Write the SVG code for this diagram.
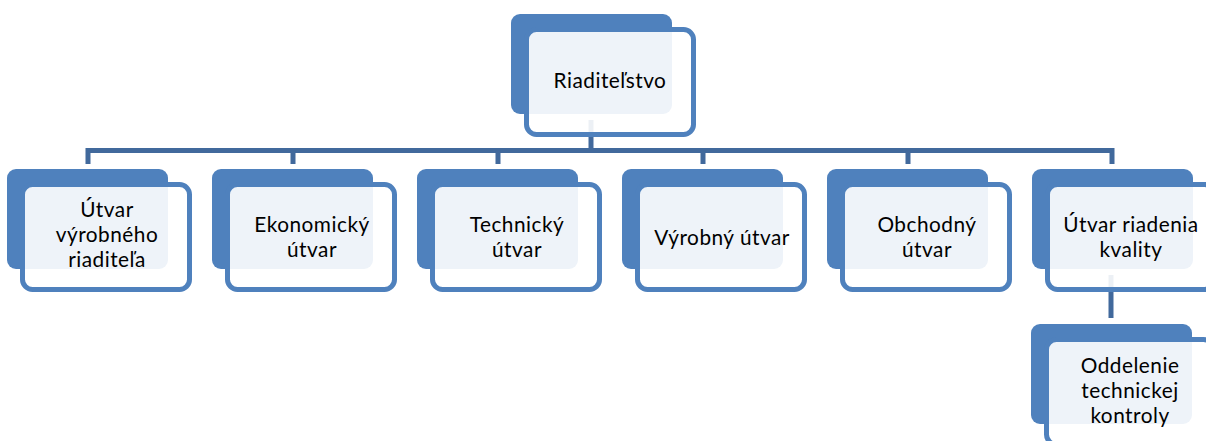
<svg xmlns="http://www.w3.org/2000/svg" width="1206" height="441" viewBox="0 0 1206 441">
<style>
.back{fill:#4F81BD}
.front{fill:#FFFFFF;fill-opacity:0.9;stroke:#4F81BD;stroke-width:5}
.lbl{font-family:Lato,"Open Sans","Liberation Sans",sans-serif;font-size:20.8px;letter-spacing:0.5px;fill:#000000;text-anchor:middle}
.conn{stroke:#41699C;stroke-width:5;fill:none}
</style>
<rect width="1206" height="441" fill="#FFFFFF"/>
<g id="connectors">
<path class="conn" d="M591,120 V150.5"/>
<path class="conn" d="M88,164 V150.5 H1112 V164"/>
<path class="conn" d="M293,150.5 V164 M498,150.5 V164 M703,150.5 V164 M908,150.5 V164"/>
<path class="conn" d="M1111,275 V318"/>
</g>
<g id="n0">
<rect class="back" x="511" y="14" width="161" height="100" rx="9"/>
<rect class="front" x="526.5" y="29.5" width="167" height="105" rx="10"/>
<text class="lbl" x="610" y="88">Riaditeľstvo</text>
</g>
<g id="n1">
<rect class="back" x="7" y="169" width="161" height="100" rx="9"/>
<rect class="front" x="22.5" y="184.5" width="167" height="105" rx="10"/>
<text class="lbl" x="107" y="217">Útvar</text>
<text class="lbl" x="107" y="242">výrobného</text>
<text class="lbl" x="107" y="267">riaditeľa</text>
</g>
<g id="n2">
<rect class="back" x="212" y="169" width="161" height="100" rx="9"/>
<rect class="front" x="227.5" y="184.5" width="167" height="105" rx="10"/>
<text class="lbl" x="312" y="232">Ekonomický</text>
<text class="lbl" x="312" y="257">útvar</text>
</g>
<g id="n3">
<rect class="back" x="417" y="169" width="161" height="100" rx="9"/>
<rect class="front" x="432.5" y="184.5" width="167" height="105" rx="10"/>
<text class="lbl" x="517" y="232">Technický</text>
<text class="lbl" x="517" y="257">útvar</text>
</g>
<g id="n4">
<rect class="back" x="622" y="169" width="161" height="100" rx="9"/>
<rect class="front" x="637.5" y="184.5" width="167" height="105" rx="10"/>
<text class="lbl" x="722" y="245">Výrobný útvar</text>
</g>
<g id="n5">
<rect class="back" x="827" y="169" width="161" height="100" rx="9"/>
<rect class="front" x="842.5" y="184.5" width="167" height="105" rx="10"/>
<text class="lbl" x="927" y="232">Obchodný</text>
<text class="lbl" x="927" y="257">útvar</text>
</g>
<g id="n6">
<rect class="back" x="1032" y="169" width="161" height="100" rx="9"/>
<rect class="front" x="1047.5" y="184.5" width="167" height="105" rx="10"/>
<text class="lbl" x="1131" y="232">Útvar riadenia</text>
<text class="lbl" x="1131" y="257">kvality</text>
</g>
<g id="n7">
<rect class="back" x="1031" y="324" width="161" height="100" rx="9"/>
<rect class="front" x="1046.5" y="339.5" width="167" height="105" rx="10"/>
<text class="lbl" x="1130" y="373">Oddelenie</text>
<text class="lbl" x="1130" y="398">technickej</text>
<text class="lbl" x="1130" y="423">kontroly</text>
</g>
</svg>
